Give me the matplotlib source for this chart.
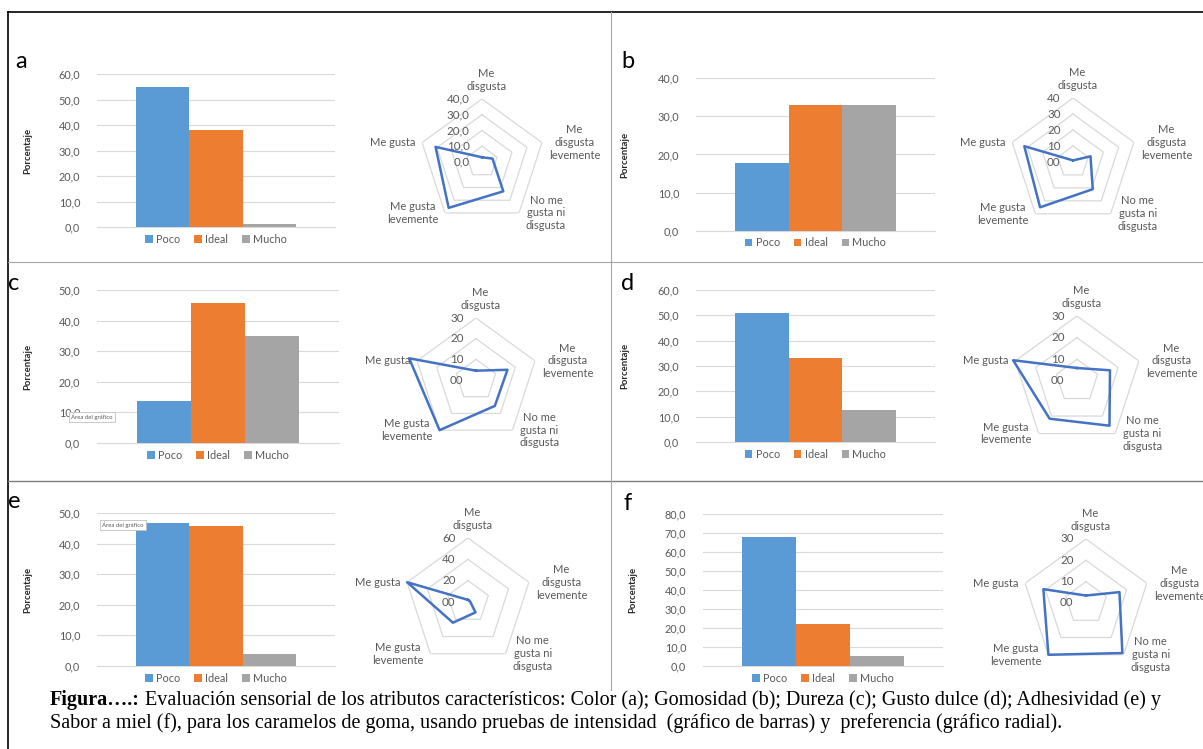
import numpy as np
import matplotlib
matplotlib.use("Agg")
import matplotlib.pyplot as plt

plt.rcParams['font.family'] = ['Lato', 'DejaVu Sans']

W, H = 1203, 749

# intensity test (bar charts), one value per panel a-f
series = ['Poco', 'Ideal', 'Mucho']
series_colors = ['#5B9BD5', '#ED7D31', '#A5A5A5']
poco = [55.0, 17.9, 13.8, 51.0, 46.7, 67.9]
ideal = [38.2, 32.9, 45.6, 33.1, 45.6, 22.1]
mucho = [1.3, 32.9, 34.9, 12.7, 4.0, 5.3]
bar_ymax = [60, 40, 50, 60, 50, 80]

# preference test (radar charts)
categories = ['Me\ndisgusta', 'Me\ndisgusta\nlevemente', 'No me\ngusta ni\ndisgusta',
              'Me gusta\nlevemente', 'Me gusta']
radar_a = [3.0, 7.0, 23.0, 36.0, 31.0]
radar_b = [1.0, 11.5, 21.0, 35.0, 32.0]
radar_c = [4.5, 16.0, 15.5, 30.0, 34.0]
radar_d = [6.0, 16.0, 25.5, 21.5, 31.0]
radar_e = [2.0, 2.0, 12.0, 24.0, 60.0]
radar_f = [3.5, 16.5, 29.0, 30.0, 21.0]
radar_vals = [radar_a, radar_b, radar_c, radar_d, radar_e, radar_f]
radar_ticks = [[0, 10, 20, 30, 40], [0, 10, 20, 30, 40], [0, 10, 20, 30],
               [0, 10, 20, 30], [0, 20, 40, 60], [0, 10, 20, 30]]
radar_ticklabels = [['0,0', '10,0', '20,0', '30,0', '40,0'], ['00', '10', '20', '30', '40'],
                    ['00', '10', '20', '30'], ['00', '10', '20', '30'],
                    ['00', '20', '40', '60'], ['00', '10', '20', '30']]

letters = ['a', 'b', 'c', 'd', 'e', 'f']

# layout in pixels
bar_boxes = [(97, 74, 335, 227), (696, 78, 935, 231), (97, 290, 339, 443),
             (696, 290, 935, 442), (97, 513, 335, 666), (703, 514, 943, 666)]
radar_centers = [(482, 162, 63), (1073, 162, 64), (476, 380, 62),
                 (1077, 381, 65), (468, 602, 64), (1086, 603, 64)]
letter_pos = [(15, 68), (621, 68), (8, 290), (621, 290), (8, 508), (623, 510)]
ylabel_x = [28, 625, 28, 625, 28, 633]

GRAY_TXT = '#595959'
GRID = '#D9D9D9'


def rect(x0, y0, x1, y1):
    return [x0 / W, 1 - y1 / H, (x1 - x0) / W, (y1 - y0) / H]


def pixel_axes():
    a = fig.add_axes([0, 0, 1, 1])
    a.set_xlim(0, W)
    a.set_ylim(H, 0)
    a.axis('off')
    return a


fig = plt.figure(figsize=(W / 100, H / 100), dpi=100)

# panel frame and separators
frame = pixel_axes()
frame.plot([8, W], [12, 12], color='black', lw=1.2)
frame.plot([8, 8], [12, H], color='black', lw=1.2)
frame.plot([8, W], [262, 262], color='#A6A6A6', lw=0.8)
frame.plot([8, W], [481, 481], color='#7F7F7F', lw=1.0)
frame.plot([611, 611], [12, 690], color='#A6A6A6', lw=0.8)

w = 0.224
for i in range(6):
    ax = fig.add_axes(rect(*bar_boxes[i]))
    ax.patch.set_alpha(0)
    vals = [poco[i], ideal[i], mucho[i]]
    for j, (name, v) in enumerate(zip(series, vals)):
        ax.bar((j - 1) * w, v, width=w, color=series_colors[j], label=name, zorder=3)
    ax.set_xlim(-0.5, 0.5)
    ax.set_ylim(0, bar_ymax[i])
    yt = np.arange(0, bar_ymax[i] + 1, 10)
    ax.set_yticks(yt)
    ax.set_yticklabels([f'{t:.1f}'.replace('.', ',') for t in yt])
    ax.set_xticks([])
    ax.yaxis.grid(True, color=GRID, lw=0.8, zorder=0)
    for s in ['top', 'right', 'left']:
        ax.spines[s].set_visible(False)
    ax.spines['bottom'].set_color(GRID)
    ax.tick_params(axis='y', length=0, pad=12, labelsize=7.8, labelcolor=GRAY_TXT)
    leg = ax.legend(ncol=3, loc='upper center', bbox_to_anchor=(0.5, 0.0), frameon=False,
                    fontsize=7.8, handlelength=0.7, handleheight=0.7, handletextpad=0.3,
                    columnspacing=1.3, borderaxespad=0.2)
    for t in leg.get_texts():
        t.set_color(GRAY_TXT)
    x0, y0, x1, y1 = bar_boxes[i]
    frame.text(ylabel_x[i], (y0 + y1) / 2, 'Porcentaje', rotation=90, ha='center',
               va='center', fontsize=6.8, fontweight='bold', color='#262626')
    frame.text(letter_pos[i][0], letter_pos[i][1], letters[i], fontsize=17,
               va='baseline', ha='left', color='black')

angles = np.linspace(0, 2 * np.pi, len(categories), endpoint=False)
closed = np.append(angles, angles[0])
for i in range(6):
    cx, cy, r = radar_centers[i]
    ax = fig.add_axes(rect(cx - r, cy - r, cx + r, cy + r), projection='polar')
    ax.set_theta_offset(np.pi / 2)
    ax.set_theta_direction(-1)
    ticks = radar_ticks[i]
    rmax = ticks[-1]
    ax.set_ylim(0, rmax)
    ax.grid(False)
    ax.spines['polar'].set_visible(False)
    ax.set_xticks([])
    ax.set_yticks([])
    ax.patch.set_alpha(0)
    for t in ticks[1:]:
        ax.plot(closed, [t] * len(closed), color=GRID, lw=0.9, zorder=1)
    vals = radar_vals[i]
    ax.plot(closed, vals + vals[:1], color='#4472C4', lw=1.8, zorder=3, clip_on=False)
    for t, lbl in zip(ticks, radar_ticklabels[i]):
        ax.annotate(lbl, xy=(0, t), xytext=(-9, 0), textcoords='offset points',
                    ha='right', va='center', fontsize=8.3, color=GRAY_TXT)
    for k, (a, cat) in enumerate(zip(angles, categories)):
        if k == 0:
            off, ha, va = (3, 5), 'center', 'bottom'
        elif a < np.pi:
            off, ha, va = (5, 0), 'left', 'center'
        else:
            off, ha, va = (-5, 0), 'right', 'center'
        ax.annotate(cat, xy=(a, rmax), xytext=off, textcoords='offset points', ha=ha,
                    va=va, multialignment='center', fontsize=8, color=GRAY_TXT,
                    annotation_clip=False)

top = pixel_axes()

# chart-area tooltips left over in panels c and e
for x, y in [(71, 417), (102, 525)]:
    top.text(x, y, 'Área del gráfico', fontsize=4.3, color=GRAY_TXT, ha='left', va='center',
             zorder=10, bbox=dict(boxstyle='square,pad=0.35', fc='white', ec='#BFBFBF', lw=0.6))

# caption
cap_font = dict(family='Liberation Serif', fontsize=14.5, color='black')
bold = top.text(50, 710, 'Figura….:', fontweight='bold', ha='left', va='bottom', **cap_font)
top.annotate(' Evaluación sensorial de los atributos característicos: Color (a); Gomosidad (b); '
             'Dureza (c); Gusto dulce (d); Adhesividad (e) y',
             xy=(1, 0), xycoords=bold, ha='left', va='bottom', **cap_font)
top.text(50, 733, 'Sabor a miel (f), para los caramelos de goma, usando pruebas de intensidad  '
         '(gráfico de barras) y  preferencia (gráfico radial).',
         ha='left', va='bottom', **cap_font)

fig.savefig('out.png', dpi=100)
